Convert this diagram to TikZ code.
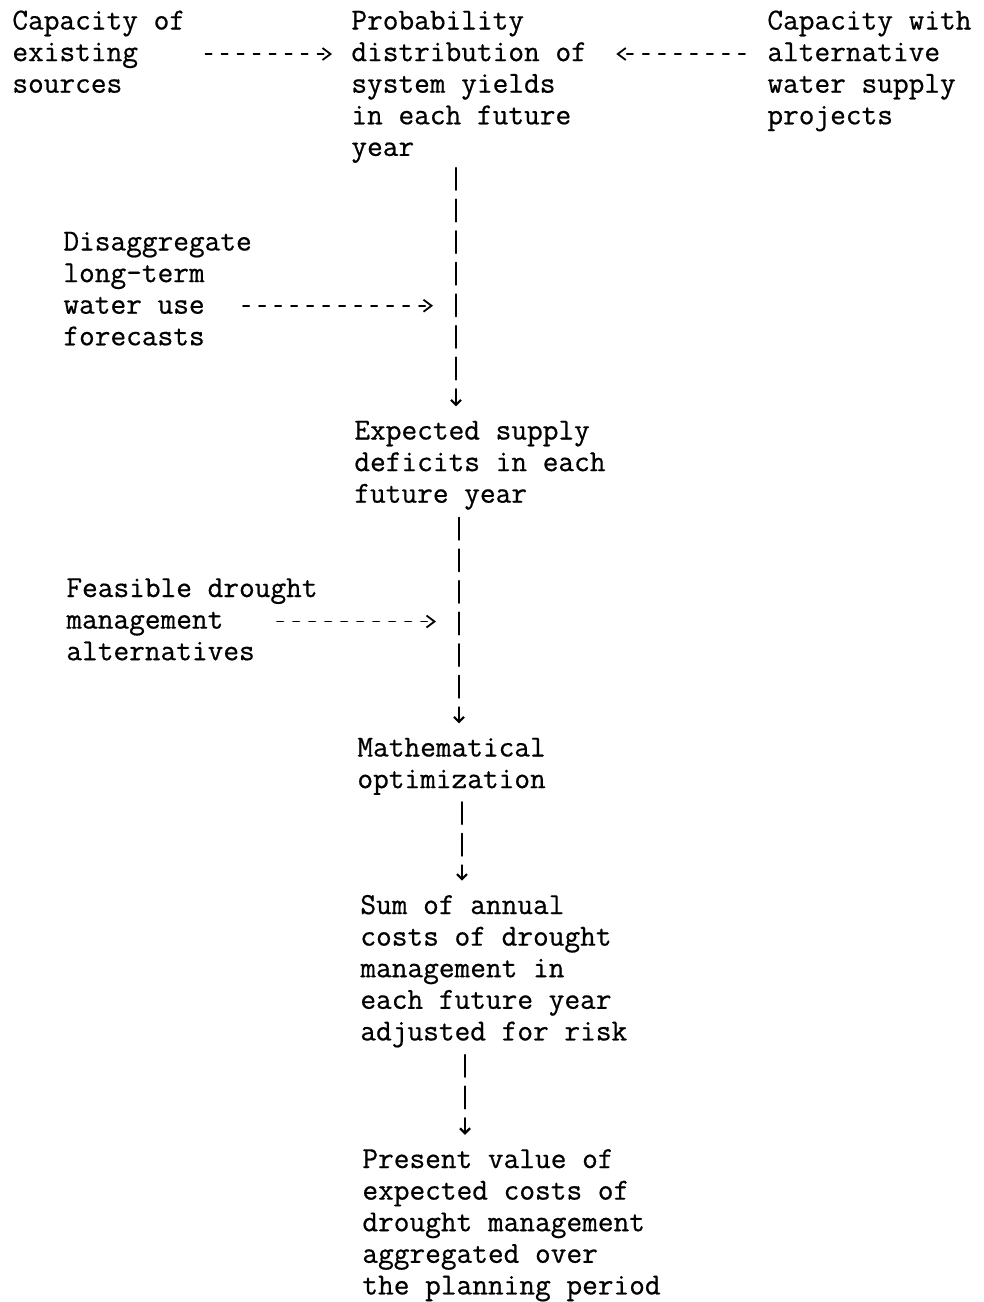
\documentclass[tikz,border=0pt]{standalone}
\usepackage{fontspec}
\usepackage{tikz}
\usetikzlibrary{arrows.meta,calc}
\newfontfamily\typefont[FakeBold=0.6]{Latin Modern Mono}
\tikzset{
  txt/.style={anchor=base west,align=left,inner sep=0pt,font=\fontsize{15.24}{15.8}\selectfont\typefont},
  hflow/.style={line width=0.9pt,dash pattern=on 3.1pt off 4.9pt,-{Straight Barb[length=4pt,width=6pt]}},
  vflow/.style={line width=1.1pt,dash pattern=on 11pt off 4.8pt,-{Straight Barb[length=2.5pt,width=5pt]}}
}
\begin{document}
\begin{tikzpicture}[line cap=round,line join=round,x=0.5pt,y=-0.5pt]
\useasboundingbox (0,0) rectangle (984,1302);

% top row (nodes sit on the baseline of their last line)
\node[txt] (src) at (12,92.7) {Capacity of\\existing\\sources};
\node[txt] (prob) at (351,155.9) {Probability\\distribution of\\system yields\\in each future\\year};
\node[txt] (alt) at (767,124.3) {Capacity with\\alternative\\water supply\\projects};

% side inputs
\node[txt] (disagg) at (63,345.3) {Disaggregate\\long-term\\water use\\forecasts};
\node[txt] (feas) at (66,660.2) {Feasible drought\\management\\alternatives};

% main column
\node[txt] (deficit) at (354,502.7) {Expected supply\\deficits in each\\future year};
\node[txt] (math) at (357,788.1) {Mathematical\\optimization};
\node[txt] (sum) at (360,1040.4) {Sum of annual\\costs of drought\\management in\\each future year\\adjusted for risk};
\node[txt] (pres) at (362,1294.4) {Present value of\\expected costs of\\drought management\\aggregated over\\the planning period};

\coordinate (v1) at ([shift={(105,12)}]prob.base west);
\coordinate (v2) at ([shift={(105,15)}]deficit.base west);
\coordinate (v3) at ([shift={(105,14)}]math.base west);
\coordinate (v4) at ([shift={(105,14.5)}]sum.base west);
\coordinate (s1) at ([shift={(20,-38.7)}]src.base east);
\coordinate (a1) at ([shift={(-22,-70.3)}]alt.base west);
\coordinate (d1) at ([shift={(180,-39.6)}]disagg.base west);
\coordinate (f1) at ([shift={(211,-38.7)}]feas.base west);

\draw[hflow] (s1) -- ($(s1 -| prob.west)+(-19,0)$);
\draw[hflow] (a1) -- ($(a1 -| prob.east)+(29,0)$);
\draw[hflow] (d1) -- ($(d1 -| v1)+(-23,0)$);
\draw[hflow] (f1) -- ($(f1 -| v2)+(-23,0)$);

\draw[vflow] (v1) -- ($(v1 |- deficit.north)+(0,-14)$);
\draw[vflow] (v2) -- ($(v2 |- math.north)+(0,-14)$);
\draw[vflow] (v3) -- ($(v3 |- sum.north)+(0,-14)$);
\draw[vflow] (v4) -- ($(v4 |- pres.north)+(0,-14)$);

\end{tikzpicture}
\end{document}
